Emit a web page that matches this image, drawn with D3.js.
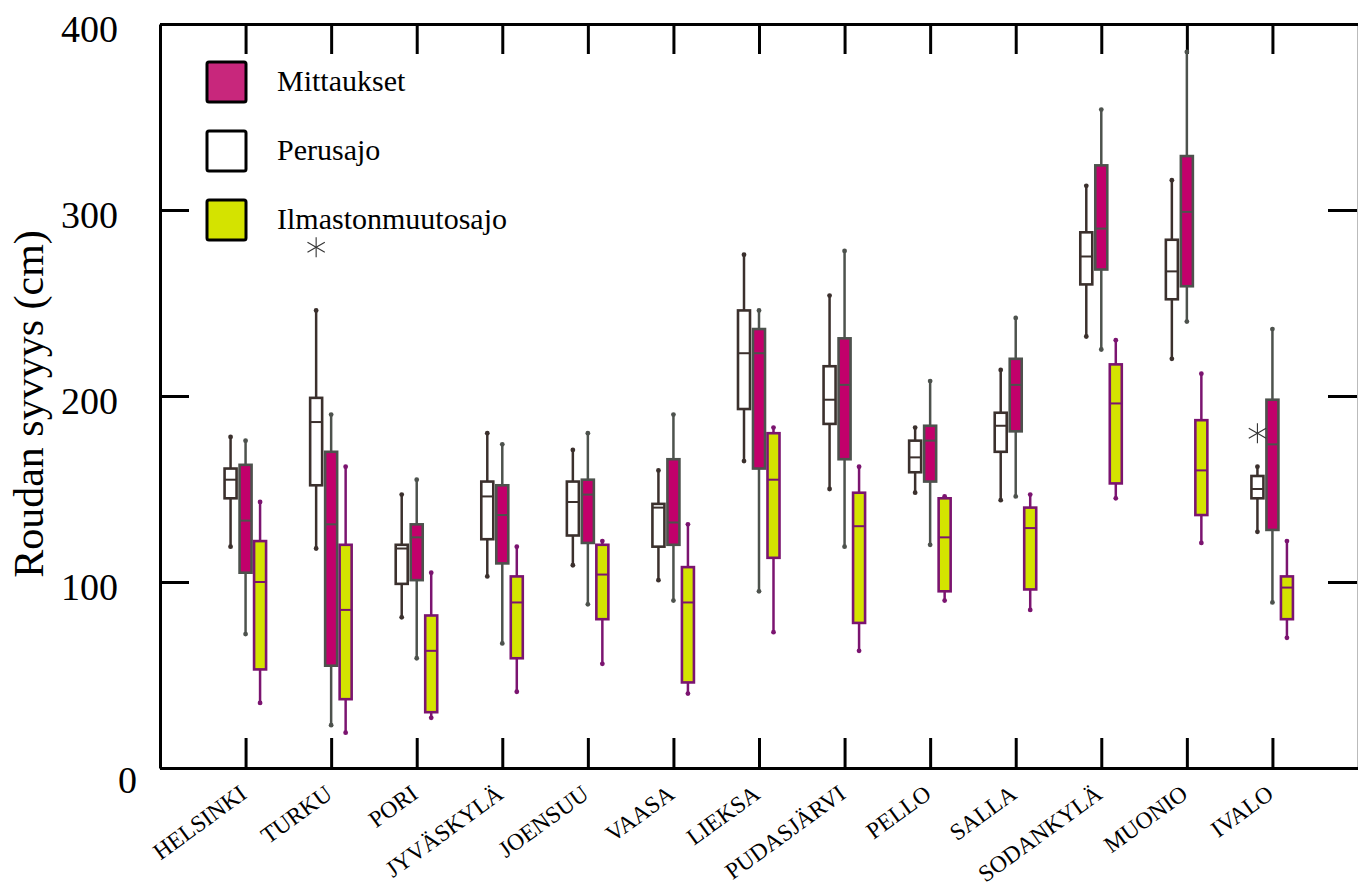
<!DOCTYPE html>
<html lang="fi">
<head>
    <meta charset="utf-8">
    <title>Roudan syvyys</title>
    <style>
        body { margin: 0; background: #fff; }
    </style>
</head>
<body>
    <div id="container"></div>

    <script src="https://cdn.jsdelivr.net/npm/d3@7"></script>
    <script>
        // Stations on the x axis
        const stations = ["HELSINKI", "TURKU", "PORI", "JYVÄSKYLÄ", "JOENSUU", "VAASA", "LIEKSA",
            "PUDASJÄRVI", "PELLO", "SALLA", "SODANKYLÄ", "MUONIO", "IVALO"];

        // [min whisker, Q1, median, Q3, max whisker] per station
        const perusajo = [
            [119, 145, 155, 161, 178], [118, 152, 186, 199, 246], [81, 99, 118, 120, 147],
            [103, 123, 146, 154, 180], [109, 125, 143, 154, 171], [101, 119, 140, 142, 160],
            [165, 193, 223, 246, 276], [150, 185, 198, 216, 254], [148, 159, 167, 176, 183],
            [144, 170, 184, 191, 214], [232, 260, 275, 288, 313], [220, 252, 267, 284, 316],
            [127, 145, 150, 157, 162]
        ];
        const mittaukset = [
            [72, 105, 133, 163, 176], [23, 55, 131, 170, 190], [59, 101, 124, 131, 155],
            [67, 110, 136, 152, 174], [88, 121, 147, 155, 180], [90, 120, 132, 166, 190],
            [95, 161, 223, 236, 246], [119, 166, 206, 231, 278], [120, 154, 176, 184, 208],
            [146, 181, 206, 220, 242], [225, 268, 290, 324, 354], [240, 259, 299, 329, 385],
            [89, 128, 174, 198, 236]
        ];
        const ilmastonmuutosajo = [
            [35, 53, 100, 122, 143], [19, 37, 85, 120, 162], [27, 30, 63, 82, 105],
            [41, 59, 89, 103, 119], [56, 80, 104, 120, 122], [40, 46, 89, 108, 131],
            [73, 113, 155, 180, 183], [63, 78, 130, 148, 162], [90, 95, 124, 145, 146],
            [85, 96, 129, 140, 147], [145, 153, 196, 217, 230], [121, 136, 160, 187, 212],
            [70, 80, 97, 103, 122]
        ];
        // outliers of the Perusajo series
        const perusajoOutliers = [["TURKU", 280], ["IVALO", 180]];

        const yTicks = [0, 100, 200, 300, 400];
        const legendLabels = ["Mittaukset", "Perusajo", "Ilmastonmuutosajo"];

        const width = 1358, height = 888;
        const plotLeft = 160, plotRight = 1358, plotTop = 24, plotBottom = 768;
        const serif = "'Liberation Serif', 'Times New Roman', serif";

        const svg = d3.select("#container").append("svg")
            .attr("width", width)
            .attr("height", height);

        const x = d3.scalePoint().domain(stations).range([plotLeft, plotRight]).padding(1);
        const y = d3.scaleLinear().domain([0, 400]).range([plotBottom, plotTop]);

        // series styles: offset from the station tick
        const series = [
            { name: "Perusajo", data: perusajo, dx: -15, fill: "#ffffff", stroke: "#3b302d" },
            { name: "Mittaukset", data: mittaukset, dx: 0, fill: "#c2006b", stroke: "#4d524d" },
            { name: "Ilmastonmuutosajo", data: ilmastonmuutosajo, dx: 14.5, fill: "#d4e300", stroke: "#7b1470" }
        ];
        const boxW = 12;

        // Axes: ticks point inward
        const axisL = svg.append("g").attr("transform", `translate(${plotLeft},0)`)
            .call(d3.axisLeft(y).tickValues(yTicks).tickSize(-29).tickSizeOuter(0).tickPadding(42));
        axisL.selectAll("text")
            .attr("font-size", 38)
            .attr("dy", "0.46em")
            .attr("transform", d => d === 0 ? "translate(19,7)" : null);

        const axisR = svg.append("g").attr("transform", `translate(${plotRight - 1},0)`)
            .call(d3.axisRight(y).tickValues(yTicks).tickSize(-29).tickSizeOuter(0).tickFormat(""));
        axisR.select(".domain").attr("stroke", "#bbb").attr("stroke-width", 1);

        const axisT = svg.append("g").attr("transform", `translate(0,${plotTop})`)
            .call(d3.axisTop(x).tickSize(-30).tickSizeOuter(0).tickFormat(""));

        const axisB = svg.append("g").attr("transform", `translate(0,${plotBottom})`)
            .call(d3.axisBottom(x).tickSize(-30).tickSizeOuter(0));
        axisB.selectAll("text")
            .attr("font-size", 23.5)
            .attr("y", 0).attr("dy", 0)
            .attr("text-anchor", "end")
            .attr("transform", "translate(2,29) rotate(-36)");

        [axisL, axisT, axisB].forEach(a => a.select(".domain").attr("stroke", "#000").attr("stroke-width", 3));
        [axisL, axisR, axisT, axisB].forEach(a => a.selectAll(".tick line").attr("stroke", "#000").attr("stroke-width", 3));
        svg.selectAll("g").attr("font-family", serif);
        svg.selectAll(".tick text").attr("fill", "#000");

        // Y axis title
        svg.append("text")
            .attr("transform", `translate(43,404) rotate(-90)`)
            .attr("text-anchor", "middle")
            .attr("font-family", serif)
            .attr("font-size", 42)
            .text("Roudan syvyys (cm)");

        // Box plots
        series.forEach(s => {
            const g = svg.append("g");
            const items = g.selectAll("g").data(s.data.map((v, i) => ({ station: stations[i], v })))
                .enter().append("g")
                .attr("transform", d => `translate(${x(d.station) + s.dx},0)`);

            // whiskers
            items.append("line")
                .attr("y1", d => y(d.v[0])).attr("y2", d => y(d.v[1]))
                .attr("stroke", s.stroke).attr("stroke-width", 2.5);
            items.append("line")
                .attr("y1", d => y(d.v[3])).attr("y2", d => y(d.v[4]))
                .attr("stroke", s.stroke).attr("stroke-width", 2.5);
            items.append("circle").attr("cy", d => y(d.v[0])).attr("r", 2.4).attr("fill", s.stroke);
            items.append("circle").attr("cy", d => y(d.v[4])).attr("r", 2.4).attr("fill", s.stroke);

            // box
            items.append("rect")
                .attr("x", -boxW / 2).attr("width", boxW)
                .attr("y", d => y(d.v[3]))
                .attr("height", d => y(d.v[1]) - y(d.v[3]))
                .attr("fill", s.fill).attr("stroke", s.stroke).attr("stroke-width", 2.6);

            // median
            items.append("line")
                .attr("x1", -boxW / 2).attr("x2", boxW / 2)
                .attr("y1", d => y(d.v[2])).attr("y2", d => y(d.v[2]))
                .attr("stroke", s.stroke).attr("stroke-width", 2);
        });

        // Outliers drawn as asterisks
        const star = svg.append("g").selectAll("g").data(perusajoOutliers).enter().append("g")
            .attr("transform", d => `translate(${x(d[0]) - 15},${y(d[1])})`);
        [90, 30, 150].forEach(a => {
            const r = 10, rad = a * Math.PI / 180;
            star.append("line")
                .attr("x1", -r * Math.cos(rad)).attr("y1", -r * Math.sin(rad))
                .attr("x2", r * Math.cos(rad)).attr("y2", r * Math.sin(rad))
                .attr("stroke", "#333").attr("stroke-width", 1.1);
        });

        // Legend
        const legendFill = ["#c8277c", "#ffffff", "#d4e300"];
        const legend = svg.append("g").selectAll("g").data(legendLabels).enter().append("g")
            .attr("transform", (d, i) => `translate(207,${62 + i * 69})`);
        legend.append("rect")
            .attr("width", 39).attr("height", 40).attr("rx", 2)
            .attr("fill", (d, i) => legendFill[i])
            .attr("stroke", "#000").attr("stroke-width", 3);
        legend.append("text")
            .attr("x", 70).attr("y", 29)
            .attr("font-family", serif)
            .attr("font-size", 30)
            .text(d => d);
    </script>
</body>
</html>
